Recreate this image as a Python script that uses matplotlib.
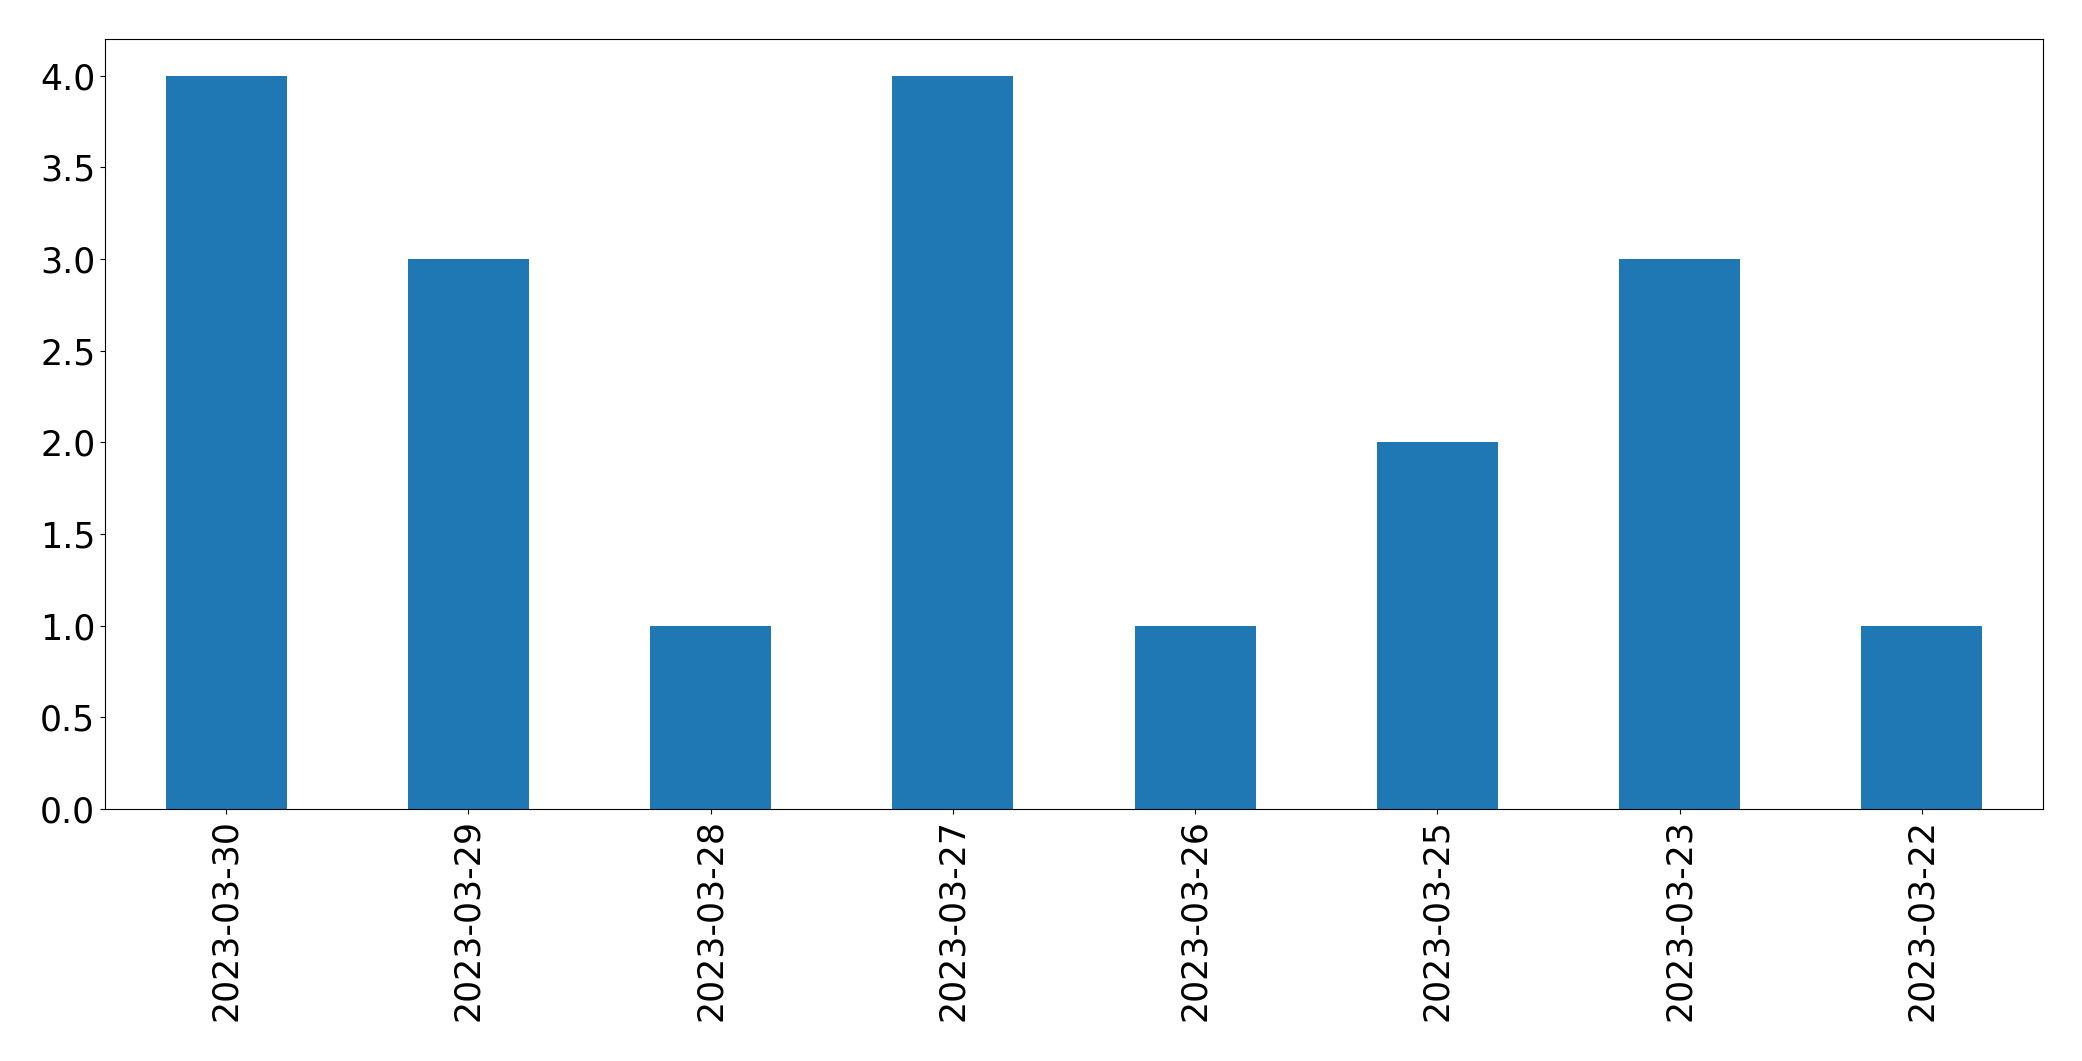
import matplotlib
matplotlib.use("Agg")
import matplotlib.pyplot as plt
import pandas as pd

dates = ["2023-03-30", "2023-03-29", "2023-03-28", "2023-03-27",
         "2023-03-26", "2023-03-25", "2023-03-23", "2023-03-22"]
counts = [4, 3, 1, 4, 1, 2, 3, 1]

s = pd.Series(counts, index=dates)

fig = plt.figure(figsize=(20.82, 10.61), dpi=100)
ax = fig.add_axes([105/2082, 1-809/1061, (2043-105)/2082, (809-39)/1061])
s.plot(kind="bar", ax=ax, color="#1f77b4", fontsize=25)
ax.set_xlabel("")
fig.savefig("out.png", dpi=100)
